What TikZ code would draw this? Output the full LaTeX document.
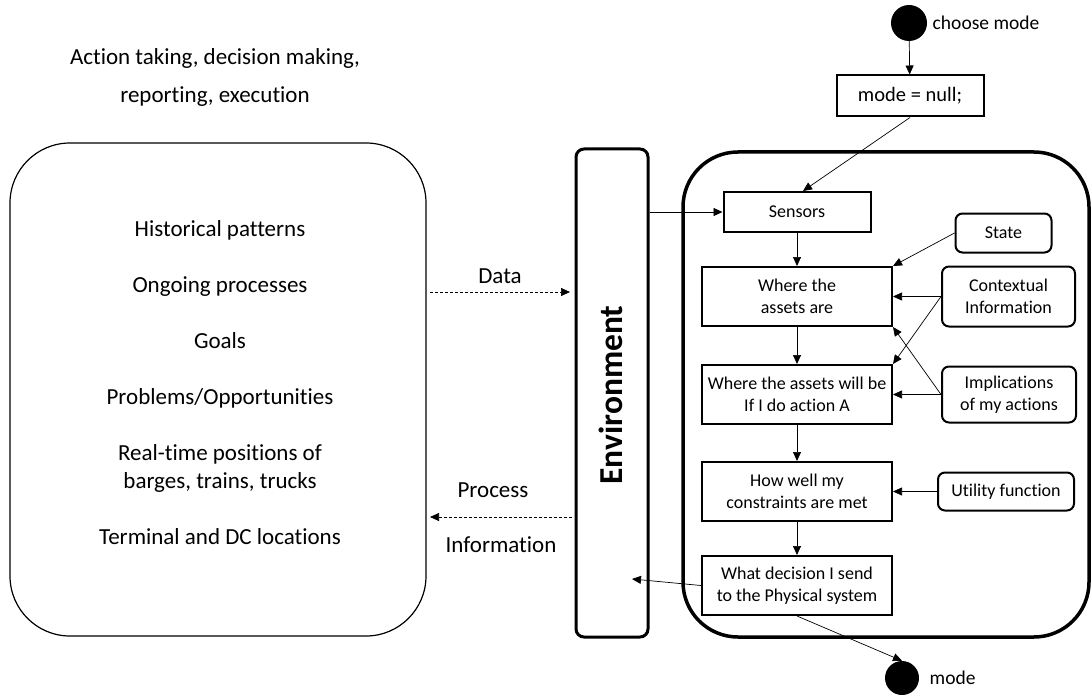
\documentclass[tikz,border=0pt]{standalone}
\usepackage{fontspec}
\setmainfont{Carlito}[Ligatures={NoCommon}]
\usetikzlibrary{arrows.meta, positioning}

\begin{document}
\begin{tikzpicture}[x=1pt, y=-1pt,
    every node/.style={font=\fontsize{18}{22}\selectfont, align=center},
    big/.style={font=\fontsize{23}{28}\selectfont},
    dotlabel/.style={font=\fontsize{19.5}{22}\selectfont},
    stepbox/.style={draw, line width=2pt, minimum width=190pt, minimum height=59pt, inner sep=2pt},
    infobox/.style={draw, line width=2pt, rounded corners=7pt, inner sep=2pt},
    dot/.style={circle, fill, minimum size=36pt, inner sep=0pt},
    arr/.style={-{Triangle[length=9pt, width=8pt]}, line width=0.7pt},
    dataarr/.style={arr, dash pattern=on 3pt off 2pt},
  ]
  \useasboundingbox (0,0) rectangle (1091,695);

  % left side: what the knowledge base holds
  \node[big] (tasks) at (215,77) {Action taking, decision making,\\[10pt] reporting, execution};
  \node[draw, line width=1.2pt, rounded corners=60pt, minimum width=416pt, minimum height=493pt] (kb) at (218,389.5) {};
  \node[big] (facts) at (220,383) {Historical patterns\\[28pt] Ongoing processes\\[28pt] Goals\\[28pt]
    Problems/Opportunities\\[28pt] Real-time positions of\\ barges, trains, trucks\\[28pt] Terminal and DC locations};

  % environment bar
  \node[draw, line width=3pt, rounded corners=8pt, minimum width=72pt, minimum height=488pt] (env) at (612,393) {};
  \node[rotate=90, font=\fontsize{33.5}{36}\selectfont\bfseries] (envname) at (611,395) {Environment};

  % agent
  \node[draw, line width=3.5pt, rounded corners=55pt, minimum width=406pt, minimum height=485pt] (agent) at (886,394.5) {};

  \node[dot, label={[dotlabel, label distance=2pt]right:choose mode}] (start) at (909,23) {};
  \node[stepbox, minimum width=147pt, minimum height=41pt, font=\fontsize{20.5}{24}\selectfont] (init) at (910,96) {mode = null;};
  \node[stepbox, minimum width=147pt, minimum height=40pt] (sensors) at (797,212) {Sensors};
  \node[stepbox, below=33pt of sensors] (where) {Where the\\assets are};
  \node[stepbox, below=37pt of where] (willbe) {Where the assets will be\\If I do action A};
  \node[stepbox, below=36pt of willbe] (howwell) {How well my\\constraints are met};
  \node[stepbox, below=33pt of howwell] (decide) {What decision I send\\to the Physical system};
  \node[dot, minimum size=34pt, label={[dotlabel, label distance=7pt]right:mode}] (stop) at (902,678) {};

  \node[infobox, minimum width=133pt, minimum height=60pt, right=48pt of where] (context) {Contextual\\Information};
  \node[infobox, minimum width=96pt, minimum height=39pt, above=12pt of context, xshift=-5pt] (state) {State};
  \node[infobox, minimum width=134pt, minimum height=56pt, right=48pt of willbe] (implic) {Implications\\of my actions};
  \node[infobox, minimum width=136pt, minimum height=38pt, right=44pt of howwell] (utility) {Utility function};

  % free ends of the data flows
  \coordinate (datafrom) at (430,292);
  \coordinate (datato) at (570,292);
  \coordinate (procfrom) at (572,517);
  \coordinate (procto) at (430,517);
  \coordinate (envin) at (632,579);

  \draw[dataarr] (datafrom) -- node[big, above=5pt] {Data} (datato);
  \draw[dataarr] (procfrom) -- node[big, above=16pt, xshift=-8pt] {Process} node[big, below=16pt] {Information} (procto);

  \draw[arr] (env.east |- sensors) -- (sensors.west);
  \draw[arr] (decide.west) -- (envin);
  \draw[arr] (start) -- (init);
  \draw[arr] (init.south) -- ([xshift=6pt]sensors.north);
  \draw[arr] (sensors) -- (where);
  \draw[arr] (where) -- (willbe);
  \draw[arr] (willbe) -- (howwell);
  \draw[arr] (howwell) -- (decide);
  \draw[arr] (decide.south) -- (stop.north);

  \draw[arr] (state.west) -- (where.north east);
  \draw[arr] (context.west) -- (where.east);
  \draw[arr] (context.west) -- (willbe.north east);
  \draw[arr] (implic.west) -- (willbe.east);
  \draw[arr] (implic.west) -- (where.south east);
  \draw[arr] (utility) -- (howwell);
\end{tikzpicture}
\end{document}
